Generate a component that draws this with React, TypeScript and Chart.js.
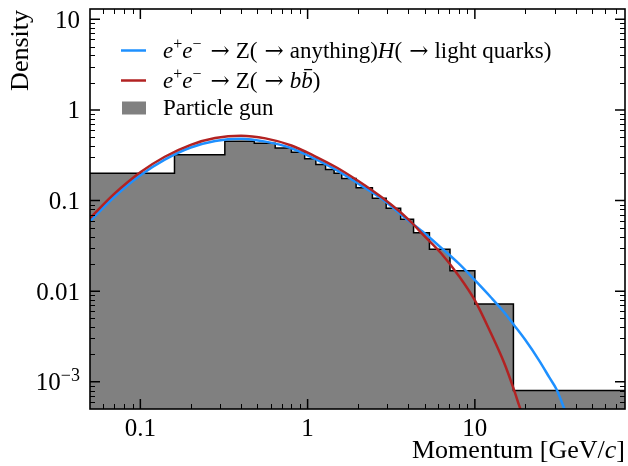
import { useEffect, useRef } from 'react';
import { Chart, registerables } from 'chart.js';

Chart.register(...registerables);

// ---------- data ----------
const binEdges = [0.03, 0.16, 0.32, 0.48, 0.64, 0.8, 0.96, 1.12, 1.28, 1.44, 1.6, 1.95, 2.44, 2.95, 3.6, 4.3, 5.35, 7.1, 10, 17, 100];
const binHeights = [0.2, 0.32, 0.45, 0.43, 0.38, 0.34, 0.29, 0.25, 0.22, 0.2, 0.175, 0.138, 0.106, 0.082, 0.062, 0.044, 0.029, 0.0168, 0.0072, 0.0008];

const blueX = [0.05, 0.07, 0.1, 0.14, 0.2, 0.28, 0.4, 0.56, 0.8, 1.1, 1.5, 2.0, 2.8, 4.0, 5.0, 6.3, 8.0, 10, 12.5, 15, 17, 20, 24.3, 28, 30.7, 34.3, 36];
const blueY = [0.059, 0.11, 0.19, 0.283, 0.385, 0.455, 0.482, 0.447, 0.378, 0.29, 0.215, 0.154, 0.103, 0.06, 0.0435, 0.03, 0.0202, 0.0132, 0.0085, 0.0058, 0.0043, 0.0029, 0.0017, 0.0011, 0.00083, 0.0005, 0.0004];

const redX = [0.05, 0.07, 0.1, 0.14, 0.2, 0.28, 0.4, 0.56, 0.8, 1.1, 1.5, 2.0, 2.8, 4.0, 5.0, 6.3, 8.0, 10, 12.5, 15, 17, 18.5, 19.5];
const redY = [0.064, 0.119, 0.205, 0.304, 0.412, 0.489, 0.52, 0.485, 0.405, 0.31, 0.23, 0.165, 0.107, 0.062, 0.0405, 0.026, 0.0148, 0.0079, 0.0034, 0.0016, 0.00085, 0.00053, 0.0004];

const xMajorTicks = [0.1, 1, 10];
const xTickLabels = ['0.1', '1', '10'];
const yMajorTicks = [0.001, 0.01, 0.1, 1, 10];
const yTickLabels = ['10^-3', '0.01', '0.1', '1', '10'];

const X_MIN = 0.05;
const X_MAX = 79;
const Y_MIN = 0.0005;
const Y_MAX = 13;

const BLUE = '#1e90ff';
const RED = '#b22222';
const GRAY = '#808080';
const FAM = '"Liberation Serif", "DejaVu Serif", serif';
const ARROW_FAM = '"DejaVu Serif", serif';

type Seg = { t?: string; it?: boolean; sup?: boolean; bar?: boolean; fam?: string; gap?: number };

function segFont(s: Seg, size: number) {
  const sz = s.sup ? Math.round(size * 0.7) : size;
  return `${s.it ? 'italic ' : ''}${sz}px ${s.fam || FAM}`;
}

function segWidth(ctx: CanvasRenderingContext2D, s: Seg, size: number) {
  if (s.gap !== undefined) return s.gap;
  ctx.font = segFont(s, size);
  return ctx.measureText(s.t || '').width;
}

function drawRich(ctx: CanvasRenderingContext2D, segs: Seg[], x: number, y: number, size: number, align: 'left' | 'right' = 'left') {
  let cx = x;
  if (align === 'right') {
    let tot = 0;
    for (const s of segs) tot += segWidth(ctx, s, size);
    cx = x - tot;
  }
  ctx.textAlign = 'left';
  ctx.textBaseline = 'alphabetic';
  for (const s of segs) {
    const w = segWidth(ctx, s, size);
    if (s.gap === undefined) {
      ctx.font = segFont(s, size);
      const dy = s.sup ? -size * 0.38 : 0;
      ctx.fillText(s.t || '', cx, y + dy);
      if (s.bar) {
        ctx.save();
        ctx.lineWidth = 1.3;
        ctx.beginPath();
        ctx.moveTo(cx + w * 0.25, y - size * 0.8);
        ctx.lineTo(cx + w * 0.95, y - size * 0.8);
        ctx.stroke();
        ctx.restore();
      }
    }
    cx += w;
  }
}

const ARROW: Seg = { t: '\u2192', fam: ARROW_FAM };
const legendRow1: Seg[] = [
  { t: 'e', it: true }, { t: '+', sup: true }, { t: 'e', it: true }, { t: '\u2212', sup: true },
  { gap: 9 }, ARROW, { gap: 6 }, { t: 'Z(' }, { gap: 7 }, ARROW, { gap: 6 }, { t: 'anything)' }, { t: 'H', it: true },
  { t: '(' }, { gap: 7 }, ARROW, { gap: 6 }, { t: 'light quarks)' },
];
const legendRow2: Seg[] = [
  { t: 'e', it: true }, { t: '+', sup: true }, { t: 'e', it: true }, { t: '\u2212', sup: true },
  { gap: 9 }, ARROW, { gap: 6 }, { t: 'Z(' }, { gap: 7 }, ARROW, { gap: 6 }, { t: 'b', it: true }, { t: 'b', it: true, bar: true }, { t: ')' },
];
const legendRow3: Seg[] = [{ t: 'Particle gun' }];

const axesPlugin = {
  id: 'mplAxes',
  afterDraw(chart: any) {
    const ctx: CanvasRenderingContext2D = chart.ctx;
    const xs = chart.scales.x;
    const ys = chart.scales.y;
    const { left, right, top, bottom } = chart.chartArea;
    ctx.save();
    ctx.strokeStyle = '#000';
    ctx.fillStyle = '#000';

    // minor ticks
    ctx.lineWidth = 1;
    const decades = [0.0001, 0.001, 0.01, 0.1, 1, 10, 100];
    ctx.beginPath();
    for (const d of decades) {
      for (let k = 2; k <= 9; k++) {
        const v = k * d;
        if (v > X_MIN && v < X_MAX) {
          const px = Math.round(xs.getPixelForValue(v)) + 0.5;
          ctx.moveTo(px, bottom); ctx.lineTo(px, bottom - 5);
          ctx.moveTo(px, top); ctx.lineTo(px, top + 5);
        }
        if (v > Y_MIN && v < Y_MAX) {
          const py = Math.round(ys.getPixelForValue(v)) + 0.5;
          ctx.moveTo(left, py); ctx.lineTo(left + 5, py);
          ctx.moveTo(right, py); ctx.lineTo(right - 5, py);
        }
      }
    }
    ctx.stroke();

    // major ticks
    ctx.lineWidth = 1.5;
    ctx.beginPath();
    for (const v of xMajorTicks) {
      const px = xs.getPixelForValue(v);
      ctx.moveTo(px, bottom); ctx.lineTo(px, bottom - 10);
      ctx.moveTo(px, top); ctx.lineTo(px, top + 10);
    }
    for (const v of yMajorTicks) {
      const py = ys.getPixelForValue(v);
      ctx.moveTo(left, py); ctx.lineTo(left + 10, py);
      ctx.moveTo(right, py); ctx.lineTo(right - 10, py);
    }
    ctx.stroke();

    // frame
    ctx.lineWidth = 1.6;
    ctx.strokeRect(left, top, right - left, bottom - top);

    // tick labels
    const tickSize = 25;
    ctx.font = `${tickSize}px ${FAM}`;
    ctx.textAlign = 'center';
    ctx.textBaseline = 'alphabetic';
    xMajorTicks.forEach((v, i) => {
      ctx.fillText(xTickLabels[i], xs.getPixelForValue(v), bottom + 27);
    });
    yMajorTicks.forEach((v, i) => {
      const py = ys.getPixelForValue(v);
      const lab = yTickLabels[i];
      if (lab.includes('^')) {
        const [base, exp] = lab.split('^');
        drawRich(ctx, [{ t: base }, { t: exp.replace('-', '\u2212'), sup: true }], left - 10, py + 8.5, tickSize, 'right');
      } else {
        ctx.font = `${tickSize}px ${FAM}`;
        ctx.textAlign = 'right';
        ctx.fillText(lab, left - 10, py + 8.5);
      }
    });

    // axis titles
    const labSize = 26;
    drawRich(ctx, [{ t: 'Momentum [GeV/' }, { t: 'c', it: true }, { t: ']' }], right, 458, labSize, 'right');
    ctx.save();
    ctx.translate(28, top + 1);
    ctx.rotate(-Math.PI / 2);
    ctx.font = `${labSize}px ${FAM}`;
    ctx.textAlign = 'right';
    ctx.textBaseline = 'alphabetic';
    ctx.fillText('Density', 0, 0);
    ctx.restore();

    // legend
    const legSize = 23;
    ctx.lineWidth = 2.5;
    ctx.strokeStyle = BLUE;
    ctx.beginPath(); ctx.moveTo(121, 50.5); ctx.lineTo(146, 50.5); ctx.stroke();
    ctx.strokeStyle = RED;
    ctx.beginPath(); ctx.moveTo(121, 80.5); ctx.lineTo(146, 80.5); ctx.stroke();
    ctx.fillStyle = GRAY;
    ctx.fillRect(122, 101.5, 24, 13);
    ctx.fillStyle = '#000';
    ctx.strokeStyle = '#000';
    drawRich(ctx, legendRow1, 163, 58, legSize);
    drawRich(ctx, legendRow2, 163, 88, legSize);
    drawRich(ctx, legendRow3, 163, 115, legSize);

    ctx.restore();
  },
};

export default function App() {
  const ref = useRef<HTMLCanvasElement | null>(null);

  useEffect(() => {
    const canvas = ref.current;
    if (!canvas) return;
    const histPoints = binEdges.map((e, i) => ({ x: e, y: binHeights[Math.min(i, binHeights.length - 1)] }));
    const bluePoints = blueX.map((x, i) => ({ x, y: blueY[i] }));
    const redPoints = redX.map((x, i) => ({ x, y: redY[i] }));

    const chart = new Chart(canvas, {
      type: 'line',
      data: {
        datasets: [
          {
            label: 'Particle gun',
            data: histPoints,
            stepped: true,
            borderColor: '#000',
            borderWidth: 1.5,
            backgroundColor: GRAY,
            fill: 'start',
            pointRadius: 0,
            order: 3,
          },
          {
            label: 'ZH light',
            data: bluePoints,
            borderColor: BLUE,
            borderWidth: 2.5,
            cubicInterpolationMode: 'monotone',
            pointRadius: 0,
            fill: false,
            order: 2,
          },
          {
            label: 'Z bb',
            data: redPoints,
            borderColor: RED,
            borderWidth: 2.5,
            cubicInterpolationMode: 'monotone',
            pointRadius: 0,
            fill: false,
            order: 1,
          },
        ],
      },
      options: {
        animation: false,
        responsive: false,
        maintainAspectRatio: false,
        devicePixelRatio: 1,
        events: [],
        layout: { padding: { left: 90, right: 3, top: 9, bottom: 57 } },
        plugins: { legend: { display: false }, tooltip: { enabled: false } },
        scales: {
          x: { type: 'logarithmic', min: X_MIN, max: X_MAX, display: false },
          y: { type: 'logarithmic', min: Y_MIN, max: Y_MAX, display: false },
        },
      } as any,
      plugins: [axesPlugin],
    });
    return () => chart.destroy();
  }, []);

  return (
    <div style={{ position: 'fixed', left: 0, top: 0, width: 628, height: 466, background: '#fff' }}>
      <canvas ref={ref} width={628} height={466} style={{ display: 'block', width: 628, height: 466 }} />
    </div>
  );
}
